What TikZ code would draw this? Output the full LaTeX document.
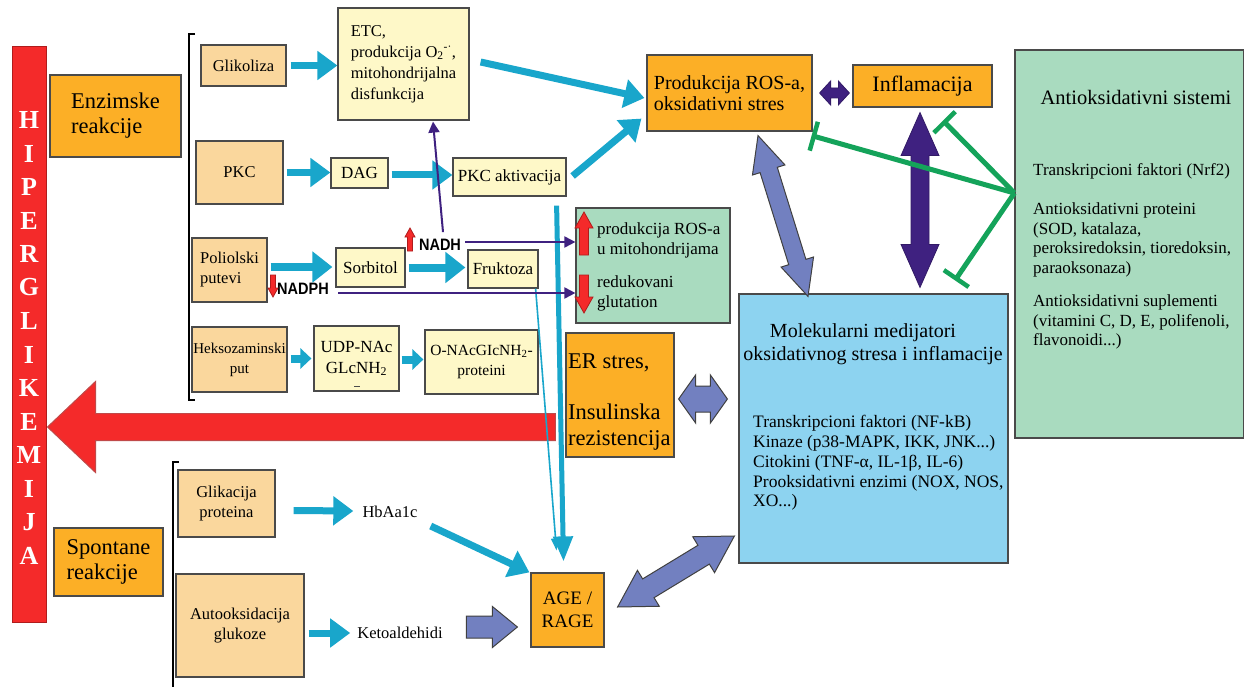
\documentclass[tikz,border=0pt]{standalone}
\usepackage{fontspec}
\setmainfont{Liberation Serif}
\newfontfamily\nsans[FakeStretch=0.88]{Liberation Sans}
\usetikzlibrary{arrows.meta,calc}
\newcommand\fsz[2]{\fontsize{#1pt}{#2pt}\selectfont}
\definecolor{redc}{HTML}{F42A2A}
\definecolor{redd}{HTML}{B01C1C}
\definecolor{orangec}{HTML}{FCAF26}
\definecolor{tanc}{HTML}{FAD79D}
\definecolor{yelc}{HTML}{FEF8C8}
\definecolor{greenc}{HTML}{A9DBBF}
\definecolor{bluec}{HTML}{8DD3F0}
\definecolor{tealc}{HTML}{19A6CB}
\definecolor{purpc}{HTML}{3F2180}
\definecolor{slatec}{HTML}{7280C0}
\definecolor{inhc}{HTML}{14A35A}
\definecolor{bordc}{HTML}{4A4A4A}
% double-headed block arrow: from, to, shaft half, head half, head length, style
\newcommand\dblarrow[6]{%
 \coordinate (baP) at ($(#1)!#5!(#2)$);
 \coordinate (baQ) at ($(#2)!#5!(#1)$);
 \draw[#6] (#1) -- ($(baP)!#4!90:(#2)$) -- ($(baP)!#3!90:(#2)$) -- ($(baQ)!#3!-90:(#1)$) -- ($(baQ)!#4!-90:(#1)$) -- (#2) -- ($(baQ)!#4!90:(#1)$) -- ($(baQ)!#3!90:(#1)$) -- ($(baP)!#3!-90:(#2)$) -- ($(baP)!#4!-90:(#2)$) -- cycle;}
% single block arrow: tail, tip, shaft half, head half, head length, style
\newcommand\sglarrow[6]{%
 \coordinate (baQ) at ($(#2)!#5!(#1)$);
 \draw[#6] ($(#1)!#3!90:(#2)$) -- ($(baQ)!#3!-90:(#1)$) -- ($(baQ)!#4!-90:(#1)$) -- (#2) -- ($(baQ)!#4!90:(#1)$) -- ($(baQ)!#3!90:(#1)$) -- ($(#1)!#3!-90:(#2)$) -- cycle;}
\begin{document}
\begin{tikzpicture}[x=1pt,y=-1pt,
 box/.style={draw=bordc, line width=1.2pt, inner sep=0pt, align=center},
 obox/.style={box, fill=orangec},
 tbox/.style={box, fill=tanc},
 ybox/.style={box, fill=yelc},
 f16/.style={font=\fsz{16.5}{20}},
 f17/.style={font=\fsz{17}{20}},
 txt/.style={inner sep=0pt, align=left},
 tarr/.style={draw=tealc, line width=7pt, -{Triangle[length=20pt,width=28pt]}},
 tarrb/.style={draw=tealc, line width=8pt, -{Triangle[length=20pt,width=30pt]}},
 tarrs/.style={draw=tealc, line width=8pt, -{Triangle[length=11pt,width=20pt]}},
 parr/.style={draw=purpc, line width=2pt, -{Triangle[length=11pt,width=11pt]}},
 inh/.style={draw=inhc, line width=5pt, -{Bar[width=30pt,line width=4.5pt]}},
 slatearr/.style={fill=slatec, draw=black!75, line width=1pt},
 purparr/.style={fill=purpc, draw=purpc!80!black, line width=0.8pt},
 redarr/.style={fill=redc, draw=redd, line width=0.8pt}]
\useasboundingbox (0,0) rectangle (1244,687);
\fill[white] (0,0) rectangle (1244,687);

% HIPERGLIKEMIJA bar
\node[draw=redd, line width=1pt, fill=redc, minimum width=34pt, minimum height=575pt, inner sep=0pt] (hiper) at (29,334.5) {};
\foreach \ch [count=\i] in {H,I,P,E,R,G,L,I,K,E,M,I,J,A}
  \node[font=\fsz{26}{26}\bfseries, text=white, inner sep=0pt] (hl\i) at (29,{120+33.5*(\i-1)}) {\ch};

% brackets
\draw[line width=1.5pt] (195,34) -- (189,34) -- (189,400) -- (195,400);
\draw[line width=1.5pt] (179,462) -- (173,462) -- (173,690);

% left labels
\node[obox, font=\fsz{22.5}{25}, align=left, minimum width=131pt, minimum height=82pt] (enz) at (115.5,116) {Enzimske\\reakcije};
\node[obox, font=\fsz{22.5}{25}, align=left, minimum width=109pt, minimum height=68pt] (spont) at (108.5,562) {Spontane\\reakcije};

% pathway boxes
\node[tbox, f16, minimum width=85pt, minimum height=41pt] (glikoliza) at (243.5,65.5) {Glikoliza};
\node[tbox, f16, minimum width=87pt, minimum height=63pt] (pkc) at (239.5,172.5) {PKC};
\node[tbox, f16, align=left, minimum width=75pt, minimum height=64pt] (poliol) at (229.5,270) {Poliolski\\putevi};
\node[tbox, font=\fsz{15}{20}, minimum width=95pt, minimum height=65pt] (heks) at (239.5,359.5) {Heksozaminski\\put};
\node[tbox, f16, minimum width=97pt, minimum height=67pt] (glik) at (226.5,503.5) {Glikacija\\proteina};
\node[tbox, f16, minimum width=128pt, minimum height=103pt] (autoox) at (240,625.5) {Autooksidacija\\glukoze};

\node[ybox, font=\fsz{16.5}{21}, align=left, minimum width=131pt, minimum height=112pt] (etc) at (403.5,64) {ETC,\\produkcija O\textsubscript{2}\textsuperscript{-·},\\mitohondrijalna\\disfunkcija};
\node[ybox, f17, minimum width=57pt, minimum height=30pt] (dag) at (359.5,173) {DAG};
\node[ybox, f17, minimum width=113pt, minimum height=38pt] (pkcakt) at (509.5,177) {PKC aktivacija};
\node[ybox, f17, minimum width=69pt, minimum height=39pt] (sorb) at (370.5,267.5) {Sorbitol};
\node[ybox, f17, minimum width=70pt, minimum height=38pt] (frukt) at (503,269) {Fruktoza};
\node[ybox, font=\fsz{17}{21}, minimum width=85pt, minimum height=65pt] (udp) at (356.5,358.5) {UDP-NAc\\GLcNH\textsubscript{2}};
\draw[line width=0.8pt, black!70] (354,386) -- (360,386);
\node[ybox, font=\fsz{15.5}{20}, minimum width=113pt, minimum height=64pt] (onac) at (481.5,362) {O-NAcGIcNH\textsubscript{2}-\\proteini};

% green ROS box
\node[box, fill=greenc, minimum width=154pt, minimum height=115pt] (rosmito) at (653,265.5) {};
\node[txt, f17, anchor=west] (rosmitot1) at (597,240) {produkcija ROS-a\\u mitohondrijama};
\node[txt, f17, anchor=west] (rosmitot2) at (597,293) {redukovani\\glutation};
\coordinate (ra1t) at (584,255); \coordinate (ra1h) at (584,212);
\sglarrow{ra1t}{ra1h}{4.5pt}{9pt}{16pt}{redarr}
\coordinate (ra2t) at (584,275); \coordinate (ra2h) at (584,313);
\sglarrow{ra2t}{ra2h}{4.5pt}{9pt}{16pt}{redarr}

% ER stres box
\node[obox, minimum width=108pt, minimum height=124pt] (er) at (620,395) {};
\node[txt, font=\fsz{22.5}{25.5}, anchor=west] (ert) at (568,402) {ER stres,\\[26pt]Insulinska\\rezistencija};

% molecular mediators
\node[box, fill=bluec, minimum width=269pt, minimum height=269pt] (mol) at (873.5,428.5) {};
\node[txt, align=center, font=\fsz{20}{23}] (molt) at (873,344) {\hspace*{-20pt}Molekularni medijatori\\oksidativnog stresa i inflamacije};
\node[txt, font=\fsz{17.5}{19.7}, anchor=west] (moll) at (753,463) {Transkripcioni faktori (NF-kB)\\Kinaze (p38-MAPK, IKK, JNK...)\\Citokini (TNF-α, IL-1β, IL-6)\\Prooksidativni enzimi (NOX, NOS,\\XO...)};

% ROS / inflammation
\node[obox, font=\fsz{20}{21}, align=left, minimum width=165pt, minimum height=76pt] (prod) at (729.5,93) {Produkcija ROS-a,\\oksidativni stres};
\node[obox, font=\fsz{22}{25}, minimum width=139pt, minimum height=42pt] (infl) at (922.5,86) {Inflamacija};

% antioxidant systems
\node[box, fill=greenc, minimum width=229pt, minimum height=388pt] (antiox) at (1129.5,244) {};
\node[txt, align=center, font=\fsz{20.5}{23}] (antioxt) at (1136,97) {Antioksidativni sistemi};
\node[txt, font=\fsz{17}{20}, anchor=west] (ao1) at (1033,171) {Transkripcioni faktori (Nrf2)};
\node[txt, font=\fsz{17}{19.4}, anchor=west] (ao2) at (1033,240) {Antioksidativni proteini\\(SOD, katalaza,\\peroksiredoksin, tioredoksin,\\paraoksonaza)};
\node[txt, font=\fsz{17}{19.4}, anchor=west] (ao3) at (1033,322) {Antioksidativni suplementi\\(vitamini C, D, E, polifenoli,\\flavonoidi...)};

% AGE and small labels
\node[obox, font=\fsz{19}{23}, minimum width=73pt, minimum height=74pt] (age) at (567.5,610) {AGE /\\RAGE};
\node[font=\fsz{16.5}{19}, inner sep=1pt] (hba) at (390,512) {HbAa1c};
\node[font=\fsz{16.5}{19}, inner sep=1pt] (keto) at (400,633) {Ketoaldehidi};
\node[font=\nsans\bfseries\fsz{16.5}{16.5}, inner sep=0pt] (nadh) at (440,245) {NADH};
\node[font=\nsans\bfseries\fsz{16.5}{16.5}, inner sep=0pt] (nadph) at (303,289) {NADPH};
\coordinate (na1) at (410,251); \coordinate (na2) at (410,228);
\sglarrow{na1}{na2}{2.5pt}{5pt}{9pt}{redarr}
\coordinate (np1) at (273,275); \coordinate (np2) at (273,297);
\sglarrow{np1}{np2}{2.5pt}{5pt}{9pt}{redarr}

% big red arrow
\coordinate (r1) at ($(er.west)+(-10,32)$);
\coordinate (r2) at ($(hiper.east)+(1,92.5)$);
\sglarrow{r1}{r2}{13.5pt}{45.5pt}{48pt}{fill=redc, draw=redd!80, line width=1pt}

% teal arrows
\draw[tarr] ($(glikoliza.east)+(4,0)$) -- (glikoliza.east -| etc.west);
\draw[tarr] ($(etc.east)+(11,-2)$) -- ($(prod.west)+(-2,5)$);
\draw[tarr] ($(pkc.east)+(3,0)$) -- (pkc.east -| dag.west);
\draw[tarr] ($(dag.east)+(3,2)$) -- ($(dag.east -| pkcakt.west)+(0,2)$);
\draw[tarr] ($(pkcakt.east)+(6,-1)$) -- ($(prod.south west)+(-5,-13)$);
\draw[tarrb] ($(poliol.east)+(3,-3)$) -- ($(poliol.east -| sorb.west)+(-3,-3)$);
\draw[tarrb] ($(sorb.east)+(3,0)$) -- ($(sorb.east -| frukt.west)+(-2,0)$);
\draw[tarrs] ($(heks.east)+(3,-1)$) -- ($(heks.east -| udp.west)+(-2,-1)$);
\draw[tarrs] ($(udp.east)+(2,1)$) -- ($(udp.east -| onac.west)+(-1,1)$);
\draw[tarr] ($(glik.east)+(18,7)$) -- ($(hba.west)+(-8,-1)$);
\draw[tarr] ($(hba.south east)+(12,7)$) -- ($(age.north west)+(-1,0)$);
\draw[tarr] ($(autoox.east)+(4,7.5)$) -- ($(keto.west)+(-6,0)$);
\draw[draw=tealc, line width=5pt, -{Triangle[length=25pt,width=19pt]}] ($(pkcakt.south east)+(-10,9)$) -- ($(age.north)+(-4,-11)$);
\draw[draw=tealc, line width=1.6pt, -{Triangle[length=12pt,width=9pt]}] ($(frukt.south east)+(-3,0)$) -- ($(age.north)+(-11,-22)$);

% purple thin arrows
\draw[parr] ($(nadh.north)+(3,-7)$) -- ($(etc.south)+(29.5,1)$);
\draw[parr] ($(nadh.east)+(4,-3)$) -- ($(rosmito.west)+(0,-23.5)$);
\draw[parr] ($(nadph.east)+(9,4)$) -- ($(rosmito.west)+(0,27.5)$);

% block double arrows
\coordinate (a1) at ($(prod.south)+(28.5,4)$); \coordinate (a2) at ($(mol.north)+(-65.5,3)$);
\dblarrow{a1}{a2}{9pt}{17pt}{36pt}{slatearr}
\coordinate (b1) at ($(infl.south)+(-2.5,5)$); \coordinate (b2) at ($(mol.north)+(46.5,-6)$);
\dblarrow{b1}{b2}{9pt}{19pt}{43pt}{purparr}
\coordinate (c1) at ($(prod.east)+(7,0)$); \coordinate (c2) at ($(infl.west)+(-3,7)$);
\dblarrow{c1}{c2}{5pt}{12pt}{11pt}{purparr}
\coordinate (d1) at ($(er.east)+(4,4)$); \coordinate (d2) at ($(mol.west)+(-11,-29.5)$);
\dblarrow{d1}{d2}{13pt}{24pt}{17pt}{slatearr}
\coordinate (e1) at ($(age.east)+(13,-3)$); \coordinate (e2) at ($(mol.west)+(-4,107.5)$);
\dblarrow{e1}{e2}{11pt}{21pt}{36pt}{slatearr}
\coordinate (k1) at ($(age.west)+(-64,17)$); \coordinate (k2) at ($(age.west)+(-13,17)$);
\sglarrow{k1}{k2}{11pt}{20.5pt}{25pt}{slatearr}

% inhibition lines
\coordinate (g0) at ($(antiox.west)+(0,-51)$);
\coordinate (gP) at ($(prod.south east)+(-1,4)$);
\coordinate (gI) at ($(infl.south)+(20.5,13)$);
\coordinate (gM) at ($(mol.north)+(81.5,-13)$);
\draw[inh] (g0) -- (gP);
\draw[inh] (g0) -- (gI);
\draw[inh] (g0) -- (gM);
\end{tikzpicture}
\end{document}
